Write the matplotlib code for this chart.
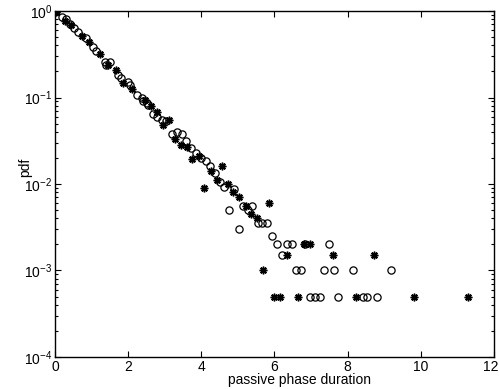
import matplotlib
matplotlib.use("Agg")
import matplotlib.pyplot as plt
import matplotlib.transforms as mtransforms
from matplotlib.ticker import LogLocator, NullFormatter, FixedLocator

plt.rcParams['font.family'] = ['Liberation Sans', 'DejaVu Sans']
plt.rcParams['mathtext.default'] = 'regular'

# Empirical pdf of passive phase durations, two runs
circle_x = [0.03, 0.19, 0.31, 0.41, 0.52, 0.64, 0.85, 1.03, 1.12, 1.37, 1.39, 1.50,
            1.73, 1.80, 2.00, 2.06, 2.25, 2.37, 2.41, 2.51, 2.55, 2.67, 2.80, 2.92,
            3.03, 3.19, 3.33, 3.46, 3.58, 3.72, 3.85, 3.98, 4.12, 4.24, 4.37, 4.51,
            4.63, 4.76, 4.89, 5.03, 5.15, 5.28, 5.40, 5.54, 5.67, 5.80, 5.92, 6.06,
            6.20, 6.33, 6.47, 6.59, 6.72, 6.83, 6.97, 7.11, 7.24, 7.36, 7.50, 7.63,
            7.74, 8.14, 8.41, 8.54, 8.79, 9.19]
circle_y = [1.0, 0.859, 0.819, 0.700, 0.644, 0.576, 0.483, 0.379, 0.345, 0.259, 0.238, 0.259,
            0.182, 0.167, 0.152, 0.140, 0.107, 0.098, 0.091, 0.086, 0.082, 0.064, 0.060, 0.055,
            0.054, 0.038, 0.040, 0.038, 0.031, 0.026, 0.023, 0.020, 0.0186, 0.0161, 0.0135, 0.0106,
            0.0093, 0.005, 0.0088, 0.003, 0.0055, 0.005, 0.0055, 0.0035, 0.0035, 0.0035, 0.0025, 0.002,
            0.0015, 0.002, 0.002, 0.001, 0.001, 0.002, 0.0005, 0.0005, 0.0005, 0.001, 0.002, 0.001,
            0.0005, 0.001, 0.0005, 0.0005, 0.0005, 0.001]

star_x = [0.03, 0.27, 0.44, 0.73, 0.93, 1.22, 1.46, 1.66, 1.87, 2.12, 2.47, 2.62,
          2.80, 2.96, 3.11, 3.28, 3.44, 3.62, 3.76, 3.94, 4.07, 4.26, 4.42, 4.56,
          4.72, 4.87, 5.04, 5.21, 5.36, 5.51, 5.68, 5.85, 6.00, 6.15, 6.33, 6.63,
          6.81, 6.97, 7.61, 8.23, 8.73, 9.82, 11.28]
star_y = [0.98, 0.772, 0.696, 0.510, 0.433, 0.320, 0.238, 0.208, 0.146, 0.124, 0.094, 0.079,
          0.0685, 0.0477, 0.0545, 0.0331, 0.028, 0.0266, 0.0195, 0.0212, 0.0091, 0.0143, 0.0111, 0.0163,
          0.010, 0.0080, 0.0070, 0.0055, 0.0045, 0.004, 0.001, 0.006, 0.0005, 0.0005, 0.0015, 0.0005,
          0.002, 0.002, 0.0015, 0.0005, 0.0015, 0.0005, 0.0005]

x_ticks = [0, 2, 4, 6, 8, 10, 12]

fig = plt.figure(figsize=(4.99, 3.89), dpi=100)
ax = fig.add_axes([0.110, 0.0823, 0.880, 0.8894])

ax.plot(circle_x, circle_y, linestyle='none', marker='o', markersize=5.2,
        markerfacecolor='none', markeredgecolor='black', markeredgewidth=0.9)
ax.plot(star_x, star_y, linestyle='none', marker=(8, 2, 0), markersize=5.5,
        color='black', markeredgewidth=1.1)

ax.set_yscale('log')
ax.set_xlim(0, 12)
ax.set_ylim(1e-4, 1e0)
ax.xaxis.set_major_locator(FixedLocator(x_ticks))
ax.yaxis.set_major_locator(LogLocator(base=10, numticks=10))
ax.yaxis.set_minor_locator(LogLocator(base=10, subs=range(2, 10), numticks=50))
ax.yaxis.set_minor_formatter(NullFormatter())

ax.tick_params(which='both', direction='in', top=True, right=True,
               labelsize=10, pad=2, width=0.8)
ax.tick_params(which='major', length=4.5)
ax.tick_params(which='minor', length=2.5)
for s in ax.spines.values():
    s.set_linewidth(1.0)

# keep the last x tick label inside the canvas
fig.canvas.draw()
last = ax.get_xticklabels()[-1]
last.set_transform(last.get_transform() +
                   mtransforms.ScaledTranslation(-3 / 100, 0, fig.dpi_scale_trans))

ax.set_xlabel('passive phase duration', fontsize=10)
ax.xaxis.set_label_coords(0.558, -0.066)
ax.xaxis.label.set_va('center')
ax.set_ylabel('pdf', fontsize=10)
ax.yaxis.set_label_coords(-0.068, 0.549)
ax.yaxis.label.set_va('center')

fig.savefig('out.png', dpi=100)
